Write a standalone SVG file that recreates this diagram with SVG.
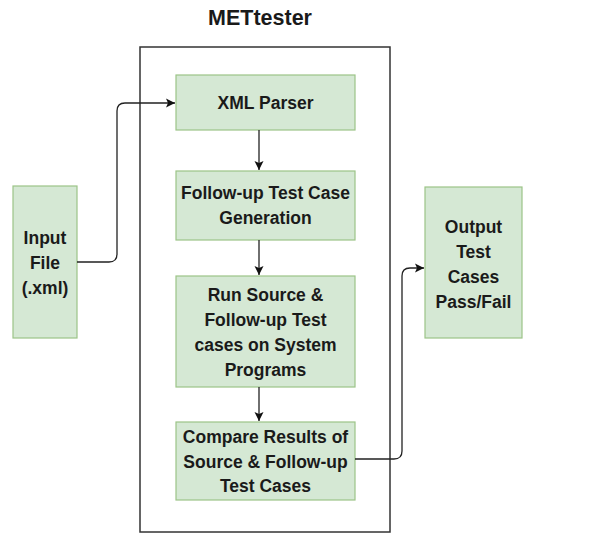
<svg xmlns="http://www.w3.org/2000/svg" width="610" height="534" viewBox="0 0 610 534">
<defs>
<marker id="ah" markerWidth="12" markerHeight="12" refX="10" refY="6" orient="auto" markerUnits="userSpaceOnUse">
<path d="M1,1.5 L10,6 L1,10.5 L3,6 Z" fill="#111"/>
</marker>
</defs>
<style>
.box{fill:#d5e8d4;stroke:#9cc487;stroke-width:1.2}
.t{font-family:"Liberation Sans",Arial,sans-serif;font-weight:bold;font-size:17.5px;fill:#1a1a1a;text-anchor:middle}
.c{fill:none;stroke:#222;stroke-width:1.3;marker-end:url(#ah)}
</style>
<rect width="610" height="534" fill="#fff"/>
<text class="t" x="260" y="25" style="font-size:21.5px">METtester</text>
<g id="frame"><rect x="140" y="47" width="250" height="485" fill="none" stroke="#333" stroke-width="1.5"/></g>
<g id="xml"><rect class="box" x="176" y="75" width="179" height="55"/><text class="t" x="265.5" y="109">XML Parser</text></g>
<g id="gen"><rect class="box" x="176" y="171" width="179" height="69"/><text class="t" x="265.5" y="199">Follow-up Test Case</text><text class="t" x="265.5" y="224">Generation</text></g>
<g id="run"><rect class="box" x="176" y="276" width="179" height="111"/><text class="t" x="265.5" y="301">Run Source &amp;</text><text class="t" x="265.5" y="326">Follow-up Test</text><text class="t" x="265.5" y="351">cases on System</text><text class="t" x="265.5" y="376">Programs</text></g>
<g id="cmp"><rect class="box" x="176" y="422" width="179" height="78"/><text class="t" x="265.5" y="443">Compare Results of</text><text class="t" x="265.5" y="468">Source &amp; Follow-up</text><text class="t" x="265.5" y="492">Test Cases</text></g>
<g id="input"><rect class="box" x="13" y="186" width="64" height="152"/><text class="t" x="45" y="244">Input</text><text class="t" x="45" y="269">File</text><text class="t" x="45" y="294">(.xml)</text></g>
<g id="output"><rect class="box" x="425" y="187" width="97" height="151"/><text class="t" x="473.5" y="233">Output</text><text class="t" x="473.5" y="258">Test</text><text class="t" x="473.5" y="283">Cases</text><text class="t" x="473.5" y="308">Pass/Fail</text></g>
<g id="connectors">
<path class="c" d="M77,262 H109 Q117,262 117,254 V111 Q117,103 125,103 H175"/>
<path class="c" d="M259,130 V170"/>
<path class="c" d="M259,240 V275"/>
<path class="c" d="M259,387 V421"/>
<path class="c" d="M355,459 H394 Q402,459 402,451 V276 Q402,268 410,268 H424"/>
</g>
</svg>
